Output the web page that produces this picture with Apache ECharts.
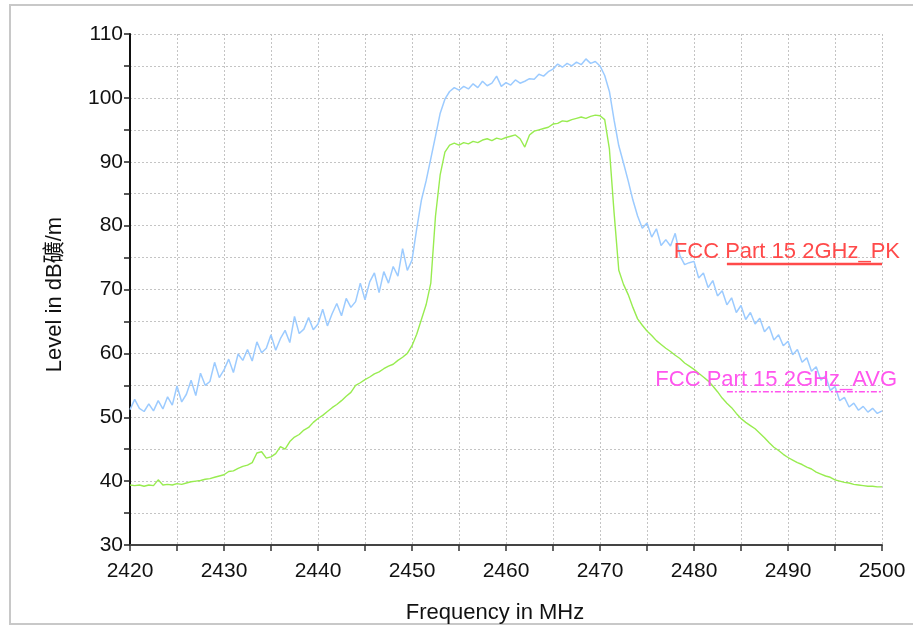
<!DOCTYPE html>
<html>
<head>
<meta charset="utf-8">
<script src="https://cdn.jsdelivr.net/npm/echarts@6/dist/echarts.min.js"></script>
<style>
  html, body { margin: 0; padding: 0; background: #fff; }
  #main { width: 913px; height: 626px; }
</style>
</head>
<body>
<div id="main"></div>
<script>
// frequency points, MHz
var freqs = [
  2420, 2420.5, 2421, 2421.5, 2422, 2422.5, 2423, 2423.5, 2424, 2424.5,
  2425, 2425.5, 2426, 2426.5, 2427, 2427.5, 2428, 2428.5, 2429, 2429.5,
  2430, 2430.5, 2431, 2431.5, 2432, 2432.5, 2433, 2433.5, 2434, 2434.5,
  2435, 2435.5, 2436, 2436.5, 2437, 2437.5, 2438, 2438.5, 2439, 2439.5,
  2440, 2440.5, 2441, 2441.5, 2442, 2442.5, 2443, 2443.5, 2444, 2444.5,
  2445, 2445.5, 2446, 2446.5, 2447, 2447.5, 2448, 2448.5, 2449, 2449.5,
  2450, 2450.5, 2451, 2451.5, 2452, 2452.5, 2453, 2453.5, 2454, 2454.5,
  2455, 2455.5, 2456, 2456.5, 2457, 2457.5, 2458, 2458.5, 2459, 2459.5,
  2460, 2460.5, 2461, 2461.5, 2462, 2462.5, 2463, 2463.5, 2464, 2464.5,
  2465, 2465.5, 2466, 2466.5, 2467, 2467.5, 2468, 2468.5, 2469, 2469.5,
  2470, 2470.5, 2471, 2471.5, 2472, 2472.5, 2473, 2473.5, 2474, 2474.5,
  2475, 2475.5, 2476, 2476.5, 2477, 2477.5, 2478, 2478.5, 2479, 2479.5,
  2480, 2480.5, 2481, 2481.5, 2482, 2482.5, 2483, 2483.5, 2484, 2484.5,
  2485, 2485.5, 2486, 2486.5, 2487, 2487.5, 2488, 2488.5, 2489, 2489.5,
  2490, 2490.5, 2491, 2491.5, 2492, 2492.5, 2493, 2493.5, 2494, 2494.5,
  2495, 2495.5, 2496, 2496.5, 2497, 2497.5, 2498, 2498.5, 2499, 2499.5,
  2500
];

// peak detector trace
var peakLevels = [
  51.2, 52.8, 51.4, 50.9, 52.1, 51.0, 52.6, 51.3, 53.2, 51.9,
  54.9, 52.4, 53.6, 55.8, 53.4, 56.9, 55.0, 55.6, 58.6, 56.2,
  57.4, 59.1, 57.0, 59.9, 58.9, 60.6, 58.8, 61.8, 60.1, 60.8,
  62.9, 60.5, 62.3, 63.6, 61.7, 65.8, 63.1, 63.8, 65.6, 63.7,
  64.6, 66.9, 64.3, 66.2, 67.8, 65.9, 68.6, 67.2, 68.1, 71.0,
  68.4, 71.2, 72.6, 69.5, 72.8, 71.0, 73.6, 72.1, 76.4, 73.0,
  74.6, 79.5, 84.0, 87.0, 90.5, 94.0, 97.6, 99.8, 101.0, 101.6,
  101.2, 101.8, 101.4, 102.2, 101.6, 102.6, 101.9, 102.3, 103.4, 101.8,
  102.4, 102.0, 102.8, 102.3, 102.6, 103.0, 102.9, 103.7, 103.4, 104.1,
  104.5, 105.3, 104.8, 105.4, 105.0, 105.6, 105.2, 106.1, 105.4, 105.7,
  105.0, 103.5, 101.0, 96.5, 92.5, 89.8, 87.0, 84.0, 81.5, 79.6,
  80.4, 78.2, 79.5, 76.9, 77.8, 76.8, 78.8, 75.3, 73.9, 74.2,
  74.4, 71.8, 72.6, 70.3, 71.4, 69.0, 69.8, 67.6, 68.7, 66.4,
  67.5, 65.3, 66.4, 64.6, 65.5, 63.4, 64.2, 62.1, 62.9, 61.2,
  61.9, 59.8, 60.6, 58.6, 59.3, 57.2, 57.9, 55.8, 56.5, 54.2,
  54.8, 52.6, 53.1, 51.6, 52.2, 51.1, 51.7, 50.8, 51.4, 50.6,
  51.0
];

// average detector trace
var avgLevels = [
  39.4, 39.3, 39.4, 39.2, 39.4, 39.3, 40.2, 39.4, 39.5, 39.4,
  39.6, 39.5, 39.7, 39.9, 40.0, 40.1, 40.3, 40.4, 40.6, 40.8,
  41.0, 41.5, 41.6, 42.0, 42.3, 42.5, 42.9, 44.4, 44.6, 43.6,
  43.8, 44.3, 45.4, 45.0, 46.2, 46.9, 47.3, 48.0, 48.4, 49.2,
  49.8, 50.3, 50.9, 51.5, 52.0, 52.6, 53.3, 53.9, 55.0, 55.4,
  55.9, 56.3, 56.8, 57.1, 57.6, 58.0, 58.3, 58.9, 59.4, 60.0,
  61.2, 63.0, 65.3, 67.6, 71.0, 81.5, 88.0, 91.5, 92.6, 92.9,
  92.6, 93.0, 92.8, 93.2, 93.0, 93.4, 93.6, 93.3, 93.7, 93.5,
  93.8, 94.0, 94.2, 93.6, 92.3, 94.2, 94.8, 95.0, 95.2, 95.4,
  95.9, 96.0, 96.4, 96.3, 96.6, 96.8, 97.0, 96.8, 97.1, 97.3,
  97.2, 96.6, 92.0, 82.0, 73.0, 70.8, 69.2, 67.2, 65.4, 64.4,
  63.5, 62.8, 62.0, 61.4, 60.8, 60.3, 59.7, 59.2, 58.5, 58.0,
  57.5, 56.9, 56.3, 55.7, 54.9, 54.0, 53.0, 52.2, 51.5, 50.6,
  49.8, 49.2, 48.7, 48.2, 47.5, 46.8, 46.0, 45.3, 44.8, 44.2,
  43.7, 43.3, 42.9, 42.6, 42.2, 41.9, 41.4, 41.1, 40.8, 40.6,
  40.2, 40.0, 39.8, 39.7, 39.5, 39.4, 39.3, 39.2, 39.2, 39.1,
  39.1
];

// limit lines
var limitFreqs = [2483.5, 2500];
var pkLimit = [74, 74];
var avgLimit = [54, 54];
var pkName = 'FCC Part 15 2GHz_PK';
var avgName = 'FCC Part 15 2GHz_AVG';

function pairs(xs, ys) {
  var out = [];
  for (var i = 0; i < xs.length; i++) out.push([xs[i], ys[i]]);
  return out;
}

var FONT = '"Liberation Sans", Arial, "Noto Sans CJK SC", sans-serif';
var chart = echarts.init(document.getElementById('main'), null, { renderer: 'canvas' });

var option = {
  backgroundColor: '#fff',
  animation: false,
  textStyle: { fontFamily: FONT },
  grid: { left: 130, right: 31, top: 34, bottom: 81, outerBoundsMode: 'none', containLabel: false },
  xAxis: {
    type: 'value',
    min: 2420,
    max: 2500,
    interval: 5,
    name: 'Frequency in MHz',
    nameLocation: 'middle',
    nameGap: 57,
    nameTextStyle: { fontSize: 22, color: '#111', fontFamily: FONT, padding: [0, 22, 0, 0] },
    axisLine: { lineStyle: { color: '#444', width: 2 } },
    axisTick: { length: 6, lineStyle: { color: '#333', width: 1.5 } },
    axisLabel: {
      fontSize: 21, color: '#111', margin: 16, fontFamily: FONT,
      formatter: function (v) { return v % 10 === 0 ? String(v) : ''; }
    },
    splitLine: { show: true, lineStyle: { color: '#c4c4c4', type: [2, 2], width: 1 } }
  },
  yAxis: {
    type: 'value',
    min: 30,
    max: 110,
    interval: 5,
    name: 'Level in dB礦/m',
    nameLocation: 'middle',
    nameGap: 64,
    nameTextStyle: { fontSize: 22, color: '#111', fontFamily: FONT, padding: [0, 10, 0, 0] },
    axisLine: { show: true, lineStyle: { color: '#111', width: 2 } },
    axisTick: { show: true, length: 6, lineStyle: { color: '#222', width: 1.5 } },
    axisLabel: {
      fontSize: 21, color: '#111', margin: 7, fontFamily: FONT,
      formatter: function (v) { return v % 10 === 0 ? String(v) : ''; }
    },
    splitLine: { show: true, lineStyle: { color: '#c4c4c4', type: [2, 2], width: 1 } }
  },
  series: [
    {
      name: 'Peak',
      type: 'line',
      data: pairs(freqs, peakLevels),
      showSymbol: false,
      lineStyle: { color: '#9ccbff', width: 1.5 },
      z: 3
    },
    {
      name: 'Average',
      type: 'line',
      data: pairs(freqs, avgLevels),
      showSymbol: false,
      lineStyle: { color: '#98ec50', width: 1.4 },
      z: 3
    },
    {
      name: pkName,
      type: 'line',
      data: pairs(limitFreqs, pkLimit),
      showSymbol: false,
      lineStyle: { color: '#ff4a4a', width: 2.5 },
      z: 4
    },
    {
      name: avgName,
      type: 'line',
      data: pairs(limitFreqs, avgLimit),
      showSymbol: false,
      lineStyle: { color: '#ff55ee', width: 1.5, type: [6, 2, 2, 2] },
      z: 4
    }
  ]
};

chart.setOption(option);

// limit labels placed from the axis scale
var pkEnd = chart.convertToPixel({ gridIndex: 0 }, [limitFreqs[1], pkLimit[1]]);
var avgEnd = chart.convertToPixel({ gridIndex: 0 }, [limitFreqs[1], avgLimit[1]]);

chart.setOption({
  graphic: [
    {
      type: 'rect',
      shape: { x: 10, y: 5, width: 920, height: 619 },
      style: { fill: 'none', stroke: '#c8c8c8', lineWidth: 2 },
      silent: true,
      z: 0
    },
    {
      type: 'text',
      x: pkEnd[0] + 18,
      y: pkEnd[1] - 12,
      style: {
        text: pkName, fill: '#ff4a4a', font: '22px ' + FONT,
        align: 'right', verticalAlign: 'middle'
      },
      z: 10
    },
    {
      type: 'text',
      x: avgEnd[0] + 15,
      y: avgEnd[1] - 12,
      style: {
        text: avgName, fill: '#ff55ee', font: '22px ' + FONT,
        align: 'right', verticalAlign: 'middle'
      },
      z: 10
    }
  ]
});
</script>
</body>
</html>
